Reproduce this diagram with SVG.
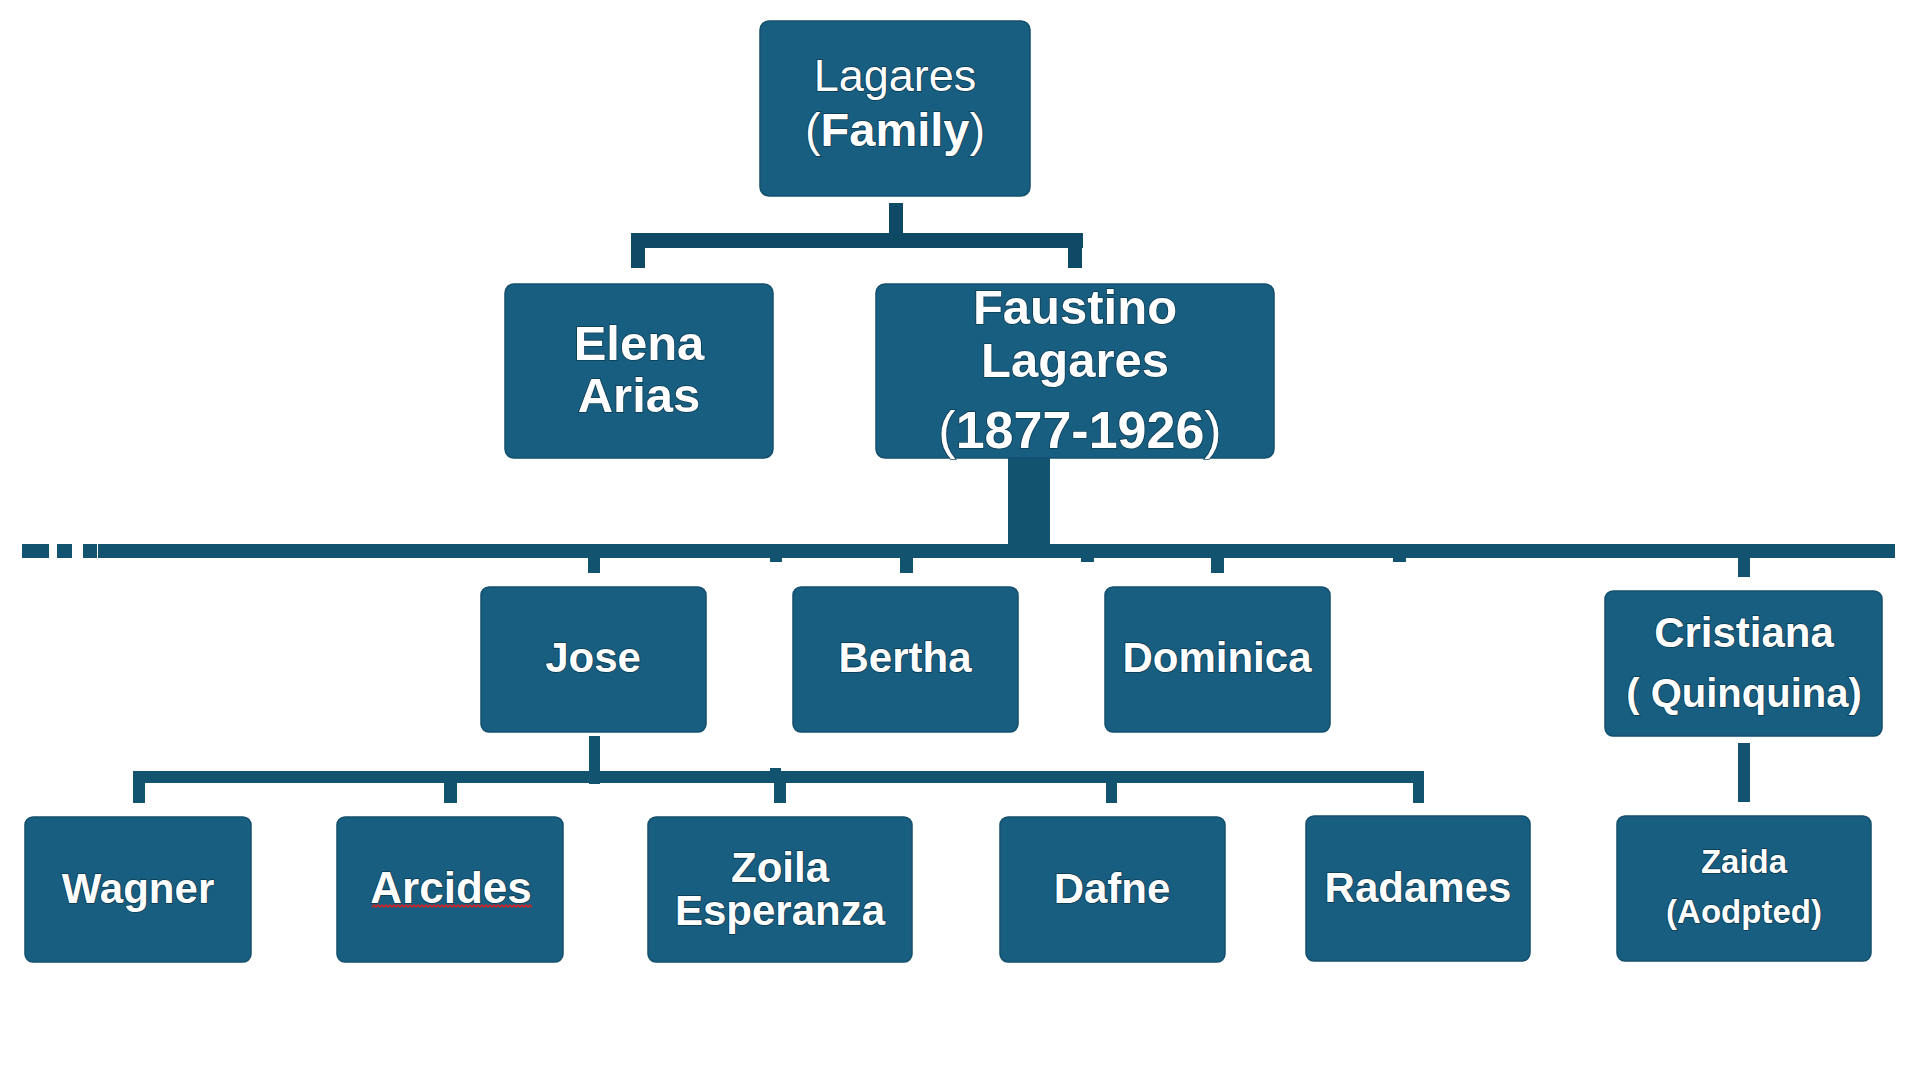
<svg xmlns="http://www.w3.org/2000/svg" width="1920" height="1089" viewBox="0 0 1920 1089">
<style>
.box{fill:#175e80;stroke:#134f6c;stroke-width:1.5}
.con{fill:#12536f}
.dark{fill:#0e4a66}
text{font-family:"Liberation Sans",Arial,sans-serif;fill:#ffffff;text-anchor:middle;stroke:#0c3a52;stroke-width:1.6;paint-order:stroke}
.b{font-weight:bold}
.n{font-weight:normal}
</style>
<rect x="0" y="0" width="1920" height="1089" fill="#ffffff"/>
<g id="connectors">
  <g class="dark">
    <rect x="889" y="203" width="14" height="31"/>
    <rect x="631" y="233" width="452" height="15"/>
    <rect x="631" y="247" width="14" height="21"/>
    <rect x="1068" y="247" width="14" height="21"/>
  </g>
  <g class="con">
    <rect x="1008" y="458" width="42" height="87"/>
    <rect x="22" y="544" width="27" height="14"/>
    <rect x="57" y="544" width="15" height="14"/>
    <rect x="83" y="544" width="14" height="14"/>
    <rect x="98" y="544" width="1797" height="14"/>
    <rect x="588" y="556" width="12" height="17"/>
    <rect x="770" y="556" width="12" height="6"/>
    <rect x="900" y="556" width="13" height="17"/>
    <rect x="1081" y="556" width="13" height="6"/>
    <rect x="1211" y="556" width="13" height="17"/>
    <rect x="1393" y="556" width="13" height="6"/>
    <rect x="1738" y="556" width="12" height="21"/>
    <rect x="589" y="736" width="11" height="48"/>
    <rect x="770" y="768" width="11" height="5"/>
    <rect x="133" y="771" width="1291" height="12"/>
    <rect x="133" y="782" width="12" height="21"/>
    <rect x="444" y="782" width="13" height="21"/>
    <rect x="774" y="782" width="12" height="21"/>
    <rect x="1106" y="782" width="11" height="21"/>
    <rect x="1413" y="782" width="11" height="21"/>
    <rect x="1738" y="743" width="12" height="59"/>
  </g>
</g>
<g id="node-lagares-family">
  <rect class="box" x="760" y="21" width="270" height="175" rx="9"/>
  <text x="895" y="91" class="n" font-size="45">Lagares</text>
  <text x="895" y="146" font-size="47"><tspan class="n">(</tspan><tspan class="b">Family</tspan><tspan class="n">)</tspan></text>
</g>
<g id="node-elena">
  <rect class="box" x="505" y="284" width="268" height="174" rx="9"/>
  <text x="639" y="360" class="b" font-size="49">Elena</text>
  <text x="639" y="412" class="b" font-size="49">Arias</text>
</g>
<g id="node-faustino">
  <rect class="box" x="876" y="284" width="398" height="174" rx="9"/>
  <text x="1075" y="324" class="b" font-size="49">Faustino</text>
  <text x="1075" y="377" class="b" font-size="49">Lagares</text>
  <text x="1080" y="448" font-size="52"><tspan class="n">(</tspan><tspan class="b">1877-1926</tspan><tspan class="n">)</tspan></text>
</g>
<g id="node-jose">
  <rect class="box" x="481" y="587" width="225" height="145" rx="8"/>
  <text x="593" y="672" class="b" font-size="42">Jose</text>
</g>
<g id="node-bertha">
  <rect class="box" x="793" y="587" width="225" height="145" rx="8"/>
  <text x="905" y="672" class="b" font-size="42">Bertha</text>
</g>
<g id="node-dominica">
  <rect class="box" x="1105" y="587" width="225" height="145" rx="8"/>
  <text x="1217" y="672" class="b" font-size="42">Dominica</text>
</g>
<g id="node-cristiana">
  <rect class="box" x="1605" y="591" width="277" height="145" rx="8"/>
  <text x="1744" y="647" class="b" font-size="42">Cristiana</text>
  <text x="1744" y="707" class="b" font-size="40">( Quinquina)</text>
</g>
<g id="node-wagner">
  <rect class="box" x="25" y="817" width="226" height="145" rx="8"/>
  <text x="138" y="903" class="b" font-size="42">Wagner</text>
</g>
<g id="node-arcides">
  <rect class="box" x="337" y="817" width="226" height="145" rx="8"/>
  <text x="451" y="903" class="b" font-size="44">Arcides</text>
  <path d="M372 907
  l2 -2 l2 2 l2 -2 l2 2 l2 -2 l2 2 l2 -2 l2 2 l2 -2 l2 2 l2 -2 l2 2 l2 -2 l2 2 l2 -2 l2 2 l2 -2 l2 2 l2 -2 l2 2
  l2 -2 l2 2 l2 -2 l2 2 l2 -2 l2 2 l2 -2 l2 2 l2 -2 l2 2 l2 -2 l2 2 l2 -2 l2 2 l2 -2 l2 2 l2 -2 l2 2 l2 -2 l2 2
  l2 -2 l2 2 l2 -2 l2 2 l2 -2 l2 2 l2 -2 l2 2 l2 -2 l2 2 l2 -2 l2 2 l2 -2 l2 2 l2 -2 l2 2 l2 -2 l2 2 l2 -2 l2 2
  l2 -2 l2 2 l2 -2 l2 2 l2 -2 l2 2 l2 -2 l2 2 l2 -2 l2 2 l2 -2 l2 2 l2 -2 l2 2 l2 -2 l2 2 l2 -2 l2 2 l2 -2 l2 2" fill="none" stroke="#e02020" stroke-width="1.5"/>
</g>
<g id="node-zoila">
  <rect class="box" x="648" y="817" width="264" height="145" rx="8"/>
  <text x="780" y="882" class="b" font-size="42">Zoila</text>
  <text x="780" y="925" class="b" font-size="42">Esperanza</text>
</g>
<g id="node-dafne">
  <rect class="box" x="1000" y="817" width="225" height="145" rx="8"/>
  <text x="1112" y="903" class="b" font-size="42">Dafne</text>
</g>
<g id="node-radames">
  <rect class="box" x="1306" y="816" width="224" height="145" rx="8"/>
  <text x="1418" y="902" class="b" font-size="42">Radames</text>
</g>
<g id="node-zaida">
  <rect class="box" x="1617" y="816" width="254" height="145" rx="8"/>
  <text x="1744" y="873" class="b" font-size="33">Zaida</text>
  <text x="1744" y="923" class="b" font-size="33">(Aodpted)</text>
</g>
</svg>
